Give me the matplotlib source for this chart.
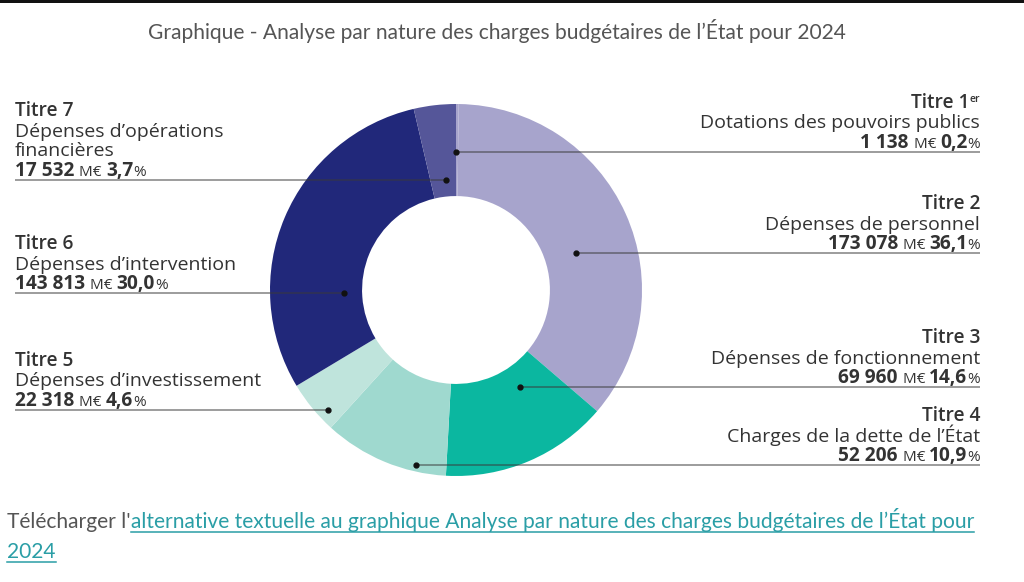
import matplotlib
matplotlib.use("Agg")
import matplotlib.pyplot as plt

# --- data ---
titres = ["Titre 1", "Titre 2", "Titre 3", "Titre 4", "Titre 5", "Titre 6", "Titre 7"]
descriptions = [
    ["Dotations des pouvoirs publics"],
    ["Dépenses de personnel"],
    ["Dépenses de fonctionnement"],
    ["Charges de la dette de l’État"],
    ["Dépenses d’investissement"],
    ["Dépenses d’intervention"],
    ["Dépenses d’opérations", "financières"],
]
montants = [1138, 173078, 69960, 52206, 22318, 143813, 17532]   # M€
parts = ["0,2", "36,1", "14,6", "10,9", "4,6", "30,0", "3,7"]   # %
colors = ["#a7a4cc", "#a7a4cc", "#0bb7a0", "#9fd9cf", "#bfe4dc", "#21287a", "#555699"]

# label layout: side, leader-line y (px from top), dot x (px)
sides = ["right", "right", "right", "right", "left", "left", "left"]
line_y = [152, 253, 387, 465, 410, 293, 180]
dot_x = [456, 576, 520, 416, 328, 344, 446]

W, H = 1024, 582
fig = plt.figure(figsize=(W / 100, H / 100), dpi=100)
ax = fig.add_axes([0, 0, 1, 1])

cx, cy, R = 456, 290, 186
ax.pie(montants, colors=colors, startangle=90, counterclock=False,
       center=(cx, H - cy), radius=R,
       wedgeprops=dict(width=R * 0.495, linewidth=0))
ax.set_xlim(0, W)
ax.set_ylim(0, H)
ax.set_aspect("auto")
ax.set_axis_off()

# black band at very top
ax.axhspan(H - 3, H, color="#111111", lw=0)

renderer = fig.canvas.get_renderer()
LAB = "Open Sans"
TXT = "#333333"
FS_DESC, FS_TITRE, FS_VAL, FS_UNIT = 14, 13.8, 13.8, 11


def width_of(t):
    return t.get_window_extent(renderer).width


def rich_line(x, y, pieces, align):
    """pieces: list of (text, size, weight, dy)"""
    objs = [ax.text(0, y + dy, s, fontsize=fs, fontweight=fw, family=LAB,
                    color=TXT, va="baseline", ha="left")
            for s, fs, fw, dy in pieces]
    widths = [width_of(o) for o in objs]
    start = x - sum(widths) if align == "right" else x
    for o, w in zip(objs, widths):
        o.set_x(start)
        start += w


def fmt(n):
    return f"{n:,}".replace(",", " ")


for i in range(len(titres)):
    ly = H - line_y[i]
    side = sides[i]
    tx = 980 if side == "right" else 15
    # value line
    rich_line(tx, ly + 4, [(fmt(montants[i]) + " ", FS_VAL, "bold", 0),
                           ("M€ ", FS_UNIT, "normal", 0),
                           (parts[i], FS_VAL, "bold", 0),
                           ("%", FS_UNIT, "normal", 0)], side)
    desc = descriptions[i]
    y = ly + 4
    for d in reversed(desc):
        y += 19.5
        rich_line(tx, y, [(d, FS_DESC, "normal", 0)], side)
    y += 20.5
    if i == 0:
        rich_line(tx, y, [("Titre 1", FS_TITRE, "semibold", 0),
                          ("er", 7.5, "semibold", 6)], side)
    else:
        rich_line(tx, y, [(titres[i], FS_TITRE, "semibold", 0)], side)
    # leader line and dot
    x0, x1 = (dot_x[i], 980) if side == "right" else (15, dot_x[i])
    ax.plot([x0, x1], [ly, ly], color="#3a3a3a", alpha=0.5, lw=1.4,
            solid_capstyle="butt")
    ax.plot(dot_x[i], ly, "o", color="#111111", markersize=3.5)

# title
ax.text(497, H - 31, "Graphique - Analyse par nature des charges budgétaires de l’État pour 2024",
        family="Lato", fontsize=15.1, color="#555555", ha="center", va="center")

# download link
LINK = "#2a9ea6"
FS_LINK = 15.1
t0 = ax.text(7, H - 528, "Télécharger l'", family="Lato", fontsize=FS_LINK,
             color="#555555", ha="left", va="baseline")
x_link = 7 + width_of(t0)
link_lines = [(x_link, H - 528,
               "alternative textuelle au graphique Analyse par nature des charges budgétaires de l’État pour"),
              (7, H - 558, "2024")]
for lx, lyy, s in link_lines:
    t = ax.text(lx, lyy, s, family="Lato", fontsize=FS_LINK, color=LINK,
                ha="left", va="baseline")
    w = width_of(t)
    ax.plot([lx, lx + w], [lyy - 4, lyy - 4], color=LINK, lw=1.1)

fig.savefig("out.png", dpi=100)
